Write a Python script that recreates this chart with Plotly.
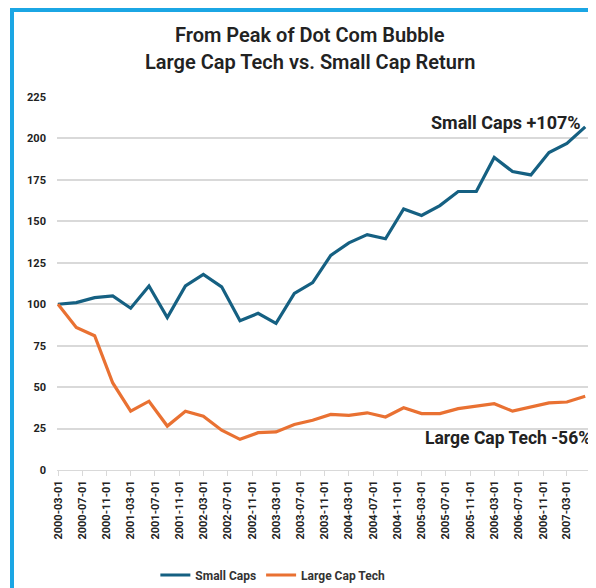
import pandas as pd
import plotly.graph_objects as go

# quarterly index values, 100 = March 2000 (dot com peak)
dates = pd.date_range("2000-03-01", periods=30, freq="3MS")

small_caps = [100, 101, 104, 105, 97.6, 111, 92, 111, 118, 110.5,
              90, 94.5, 88.5, 106.5, 113, 129.5, 137, 142, 139.5, 157.5,
              153.5, 159.5, 168, 168, 188.5, 180, 178, 191.5, 197, 207]
large_cap_tech = [100, 86, 81, 52.5, 35.5, 41.5, 26.5, 35.5, 32.5, 24,
                  18.5, 22.5, 23, 27.5, 30, 33.5, 33, 34.5, 32, 37.5,
                  34, 34, 37, 38.5, 40, 35.5, 38, 40.5, 41, 44.5]

tick_dates = pd.date_range("2000-03-01", "2007-03-01", freq="4MS")
tick_labels = [d.strftime("%Y-%m-%d") for d in tick_dates]

title_lines = ["From Peak of Dot Com Bubble", "Large Cap Tech vs. Small Cap Return"]

BLUE = "#156082"
ORANGE = "#E97132"
TXT = "#222222"
GRID = "#d9d9d9"
FRAME = "#1BA6E4"

# plot area in page pixels (the body adds an 8px offset)
L, R, T, B = 57, 590, 97, 470


def xp(px):
    return (px - L) / (R - L)


def yp(py):
    return (B - py) / (B - T)


fig = go.Figure()
fig.add_trace(go.Scatter(x=dates, y=small_caps, name="Small Caps", mode="lines",
                         line=dict(color=BLUE, width=3.2)))
fig.add_trace(go.Scatter(x=dates, y=large_cap_tech, name="Large Cap Tech", mode="lines",
                         line=dict(color=ORANGE, width=3.2)))

fig.update_layout(
    width=588, height=580,
    margin=dict(l=L - 8, r=596 - R, t=T - 8, b=588 - B, autoexpand=False),
    paper_bgcolor="white", plot_bgcolor="white",
    font=dict(family="Roboto", color=TXT),
    showlegend=True,
    legend=dict(orientation="h", x=0.405, xanchor="center", y=yp(575), yanchor="middle",
                font=dict(size=12, weight="bold", color="#333333"), itemwidth=30),
)

fig.update_xaxes(
    type="date", range=["2000-02-25", "2007-06-25"], automargin=False,
    tickvals=tick_dates, ticktext=tick_labels, tickangle=-90,
    tickfont=dict(size=11, weight="bold", color=TXT),
    showgrid=False, showline=True, linecolor=GRID, linewidth=1,
    ticks="outside", tickcolor=GRID, ticklen=5,
)
fig.update_yaxes(
    range=[0, 225], dtick=25, showgrid=True, gridcolor=GRID, gridwidth=1.5,
    zeroline=False, automargin=False, tickfont=dict(size=11, weight="bold", color=TXT),
    ticks="", ticklabelstandoff=10,
)

# two-line title
for txt, ypix in zip(title_lines, [35, 62]):
    fig.add_annotation(text=txt, xref="paper", yref="paper",
                       x=xp(309.5), y=yp(ypix),
                       xanchor="center", yanchor="middle", showarrow=False,
                       font=dict(size=20, weight=600, color=TXT))

fig.add_annotation(text="Small Caps +107%", xref="paper", yref="paper",
                   x=xp(583), y=yp(122), xanchor="right",
                   yanchor="middle", showarrow=False,
                   font=dict(size=18, weight="bold", color=TXT))
fig.add_annotation(text="Large Cap Tech -56%", xref="paper", yref="paper",
                   x=xp(593), y=yp(438), xanchor="right",
                   yanchor="middle", showarrow=False,
                   font=dict(size=17.5, weight="bold", color=TXT))

# light blue frame: only the left and top sides are in view
fig.add_shape(type="line", xref="paper", yref="paper",
              x0=xp(12), x1=xp(12), y0=yp(600), y1=yp(8),
              line=dict(color=FRAME, width=4), layer="above")
fig.add_shape(type="line", xref="paper", yref="paper",
              x0=xp(10), x1=xp(620), y0=yp(10), y1=yp(10),
              line=dict(color=FRAME, width=4), layer="above")

# keep the page from scrolling (body margin pushes it past the window)
fig.write_html("out.html", post_script="document.body.style.overflow='hidden';")
